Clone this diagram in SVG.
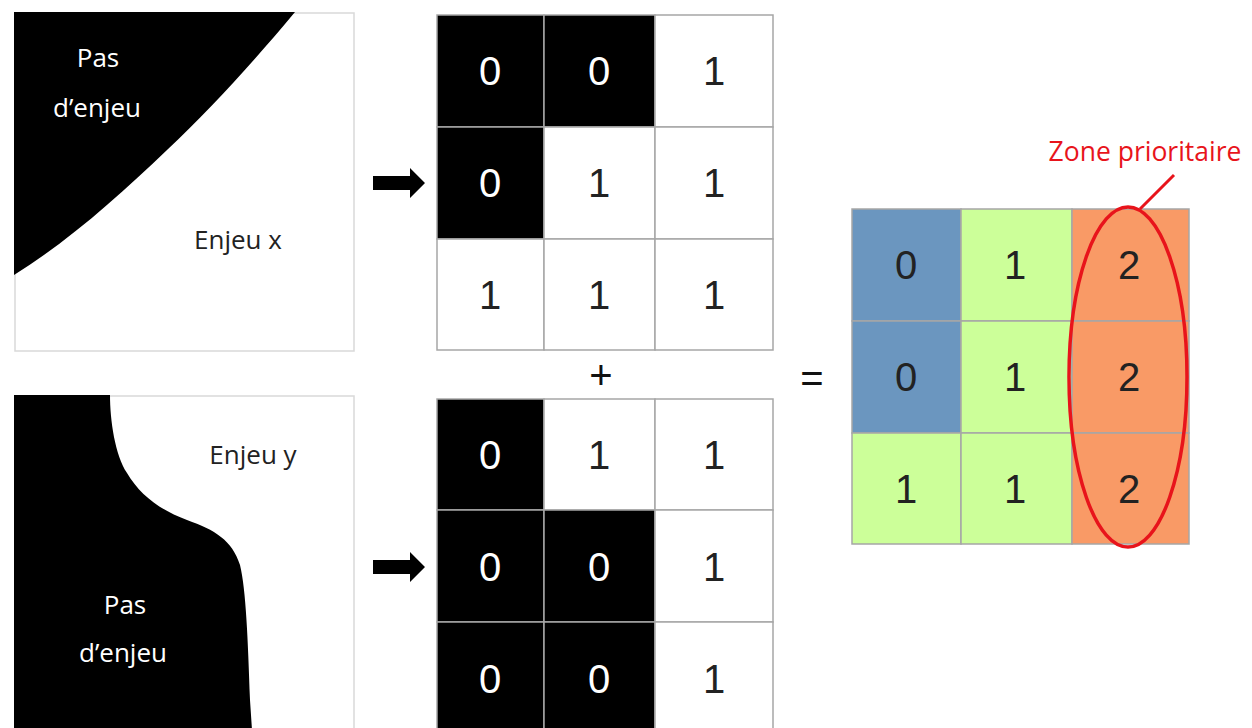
<svg xmlns="http://www.w3.org/2000/svg" width="1252" height="728" viewBox="0 0 1252 728">
<style>
.frame{fill:#fff;stroke:#d9d9d9;stroke-width:1.5}
.blk{fill:#000}
.lbl{font-family:"Open Sans","Liberation Sans",sans-serif;font-size:26px;text-anchor:middle}
.w{fill:#fff}
.k{fill:#222}
.cell{stroke:#a6a6a6;stroke-width:1.5}
.num{font-family:"Liberation Sans",Arial,sans-serif;font-size:40px;text-anchor:middle;dominant-baseline:central}
.op{font-family:"Liberation Sans",Arial,sans-serif;font-size:40px;text-anchor:middle;dominant-baseline:central;fill:#111}
.blue{fill:#6b96bf}.green{fill:#ccff99}.orange{fill:#f99a66}
</style>
<defs>
<path id="arr" d="M0,-7 H37 V-15 L52,0 L37,15 V7 H0 Z" fill="#000"/>
</defs>

<g id="map-x">
<rect class="frame" x="15" y="13" width="339" height="338"/>
<path class="blk" d="M14,12 H295 C255,60 210,110 167,150 C120,195 70,240 14,275 Z"/>
<text class="lbl w" x="98" y="67">Pas</text>
<text class="lbl w" x="97" y="117">d’enjeu</text>
<text class="lbl k" x="238" y="249">Enjeu x</text>
</g>

<g id="map-y">
<rect class="frame" x="15" y="396" width="339" height="340"/>
<path class="blk" d="M14,395 H110 C110,420 115,455 127,473 C140,495 160,510 187,520 C215,530 232,540 240,565 C246,590 248,640 250,700 L252,730 H14 Z"/>
<text class="lbl k" x="253" y="464">Enjeu y</text>
<text class="lbl w" x="125" y="614">Pas</text>
<text class="lbl w" x="123" y="662">d’enjeu</text>
</g>

<g id="grid-x">
<rect class="cell" x="437" y="15" width="107" height="112" fill="#000"/>
<rect class="cell" x="544" y="15" width="111" height="112" fill="#000"/>
<rect class="cell" x="655" y="15" width="118" height="112" fill="#fff"/>
<rect class="cell" x="437" y="127" width="107" height="112" fill="#000"/>
<rect class="cell" x="544" y="127" width="111" height="112" fill="#fff"/>
<rect class="cell" x="655" y="127" width="118" height="112" fill="#fff"/>
<rect class="cell" x="437" y="239" width="107" height="111" fill="#fff"/>
<rect class="cell" x="544" y="239" width="111" height="111" fill="#fff"/>
<rect class="cell" x="655" y="239" width="118" height="111" fill="#fff"/>
<text class="num w" x="490" y="71">0</text>
<text class="num w" x="599" y="71">0</text>
<text class="num k" x="714" y="71">1</text>
<text class="num w" x="490" y="183">0</text>
<text class="num k" x="599" y="183">1</text>
<text class="num k" x="714" y="183">1</text>
<text class="num k" x="490" y="295">1</text>
<text class="num k" x="599" y="295">1</text>
<text class="num k" x="714" y="295">1</text>
</g>

<g id="grid-y">
<rect class="cell" x="437" y="399" width="107" height="111" fill="#000"/>
<rect class="cell" x="544" y="399" width="111" height="111" fill="#fff"/>
<rect class="cell" x="655" y="399" width="118" height="111" fill="#fff"/>
<rect class="cell" x="437" y="510" width="107" height="112" fill="#000"/>
<rect class="cell" x="544" y="510" width="111" height="112" fill="#000"/>
<rect class="cell" x="655" y="510" width="118" height="112" fill="#fff"/>
<rect class="cell" x="437" y="622" width="107" height="112" fill="#000"/>
<rect class="cell" x="544" y="622" width="111" height="112" fill="#000"/>
<rect class="cell" x="655" y="622" width="118" height="112" fill="#fff"/>
<text class="num w" x="490" y="455">0</text>
<text class="num k" x="599" y="455">1</text>
<text class="num k" x="714" y="455">1</text>
<text class="num w" x="490" y="567">0</text>
<text class="num w" x="599" y="567">0</text>
<text class="num k" x="714" y="567">1</text>
<text class="num w" x="490" y="679">0</text>
<text class="num w" x="599" y="679">0</text>
<text class="num k" x="714" y="679">1</text>
</g>

<g id="grid-sum">
<rect class="cell blue" x="852" y="209" width="109" height="112"/>
<rect class="cell green" x="961" y="209" width="111" height="112"/>
<rect class="cell orange" x="1072" y="209" width="117" height="112"/>
<rect class="cell blue" x="852" y="321" width="109" height="112"/>
<rect class="cell green" x="961" y="321" width="111" height="112"/>
<rect class="cell orange" x="1072" y="321" width="117" height="112"/>
<rect class="cell green" x="852" y="433" width="109" height="111"/>
<rect class="cell green" x="961" y="433" width="111" height="111"/>
<rect class="cell orange" x="1072" y="433" width="117" height="111"/>
<text class="num k" x="906" y="265">0</text>
<text class="num k" x="1015" y="265">1</text>
<text class="num k" x="1129" y="265">2</text>
<text class="num k" x="906" y="377">0</text>
<text class="num k" x="1015" y="377">1</text>
<text class="num k" x="1129" y="377">2</text>
<text class="num k" x="906" y="489">1</text>
<text class="num k" x="1015" y="489">1</text>
<text class="num k" x="1129" y="489">2</text>
</g>

<g id="zone-prioritaire">
<ellipse cx="1128" cy="377" rx="59" ry="170" fill="none" stroke="#e8141b" stroke-width="3.5"/>
<text x="1145" y="161" font-family="'Open Sans','Liberation Sans',sans-serif" font-size="26.5" text-anchor="middle" fill="#e8141b">Zone prioritaire</text>
</g>

<g id="connectors">
<use href="#arr" x="373" y="183"/>
<use href="#arr" x="373" y="567"/>
<line x1="1140" y1="209" x2="1174" y2="175" stroke="#e8141b" stroke-width="3"/>
<text class="op" x="601" y="375">+</text>
<text class="op" x="812" y="378">=</text>
</g>
</svg>
